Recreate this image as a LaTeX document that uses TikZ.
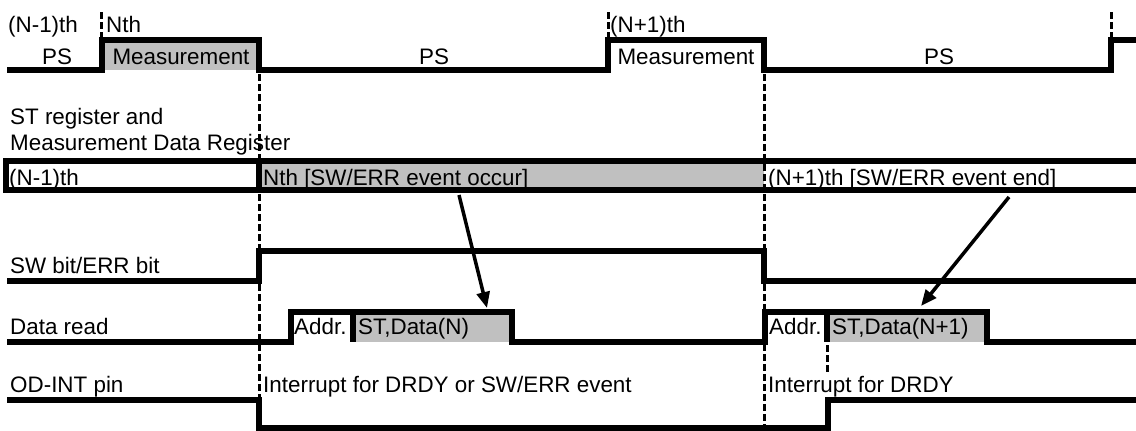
\documentclass[tikz,border=0pt]{standalone}
\usepackage{fontspec}
\setmainfont{Liberation Sans}
\usepackage{xcolor}
\usetikzlibrary{arrows.meta,positioning}
\definecolor{fieldgray}{RGB}{192,192,192}

\begin{document}
\begin{tikzpicture}[x=1pt, y=-1pt,
		wave/.style={line width=5.5pt, line join=miter},
		guide/.style={line width=3pt, dash pattern=on 7pt off 3pt},
		txt/.style={anchor=base west, inner sep=0pt, font=\fontsize{22.4}{27}\selectfont},
		ctxt/.style={txt, anchor=base},
		readarrow/.style={line width=3.5pt, -{Triangle[length=16pt, width=13pt]}}]
		\useasboundingbox (0,0) rectangle (1136,431);
		% gray fields
		\fill[fieldgray] (102,40) rectangle (259,70);
		\fill[fieldgray] (259,161) rectangle (764,190);
		\fill[fieldgray] (353,312) rectangle (512,342);
		\fill[fieldgray] (827,312) rectangle (987,342);
		% guide lines
		\draw[guide] (101,12)--(101,37); \draw[guide] (608,12)--(608,37); \draw[guide] (1111,12)--(1111,37);
		\draw[guide] (259,74)--(259,398);
		\draw[guide] (764,74)--(764,426);
		\draw[guide] (827,345)--(827,372);
		% waveforms
		\draw[wave] (7,70)--(102,70)--(102,40)--(259,40)--(259,70)--(608,70)--(608,40)--(764,40)--(764,70)--(1111,70)--(1111,40)--(1136,40);
		\draw[wave] (1136,161)--(6,161)--(6,190)--(1136,190);
		\draw[wave] (259,161)--(259,190);
		\draw[wave] (7,281)--(259,281)--(259,251)--(764,251)--(764,281)--(1136,281);
		\draw[wave] (7,342)--(291,342)--(291,312)--(512,312)--(512,342)--(765,342)--(765,312)--(987,312)--(987,342)--(1136,342);
		\draw[wave] (353,312)--(353,342); \draw[wave] (827,312)--(827,342);
		\draw[wave] (7,400)--(259,400)--(259,428)--(828,428)--(828,400)--(1136,400);
		% phase labels
		\foreach \n/\x/\y/\t in {cntA/8/32/(N-1)th, cntB/106/32/Nth, cntC/610/32/(N+1)th}
		\node[txt] (\n) at (\x,\y) {\t};
		\foreach \n/\x/\t in {psA/57/PS, measA/181/Measurement, psB/434/PS, measB/686/Measurement, psC/939/PS}
		\node[ctxt] (\n) at (\x,64) {\t};
		% row labels
		\node[txt] (stlbl) at (10,124) {ST register and};
		\node[txt] (mdrlbl) at (10,150) {Measurement Data Register};
		\node[txt] (swlbl) at (10,273) {SW bit/ERR bit};
		\node[txt] (rdlbl) at (10,334) {Data read};
		\node[txt] (intlbl) at (10,392) {OD-INT pin};
		% register contents
		\node[txt] (regA) at (9,185) {(N-1)th};
		\node[txt] (regB) at (263,185) {Nth [SW/ERR event occur]};
		\node[txt] (regC) at (768,185) {(N+1)th [SW/ERR event end]};
		% data read fields
		\node[txt] (addrA) at (294,334) {Addr.};
		\node[txt] (dataA) at (358,334) {ST,Data(N)};
		\node[txt] (addrB) at (769,334) {Addr.};
		\node[txt] (dataB) at (832,334) {ST,Data(N+1)};
		% interrupt labels
		\node[txt] (intA) at (263,392) {Interrupt for DRDY or SW/ERR event};
		\node[txt] (intB) at (768,392) {Interrupt for DRDY};
		% read arrows
		\coordinate (srcA) at (459,195); \coordinate (dstA) at (487,308);
		\coordinate (srcB) at (1009,197); \coordinate (dstB) at (921,306);
		\draw[readarrow] (srcA)--(dstA);
		\draw[readarrow] (srcB)--(dstB);
	\end{tikzpicture}
\end{document}
